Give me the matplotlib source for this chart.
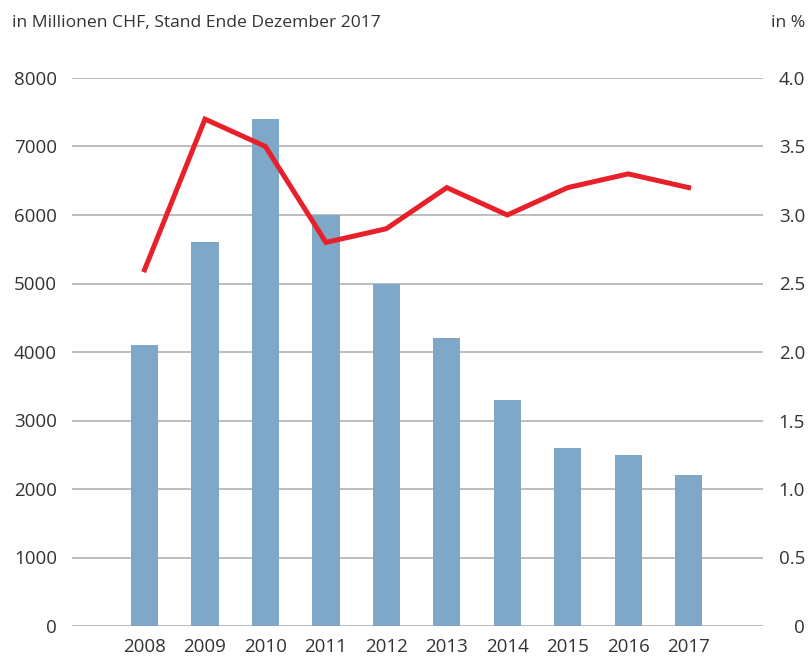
import matplotlib
matplotlib.use("Agg")
import matplotlib.pyplot as plt

years = ["2008", "2009", "2010", "2011", "2012", "2013", "2014", "2015", "2016", "2017"]
volumes = [4100, 5600, 7400, 6000, 5000, 4200, 3300, 2600, 2500, 2200]
rates = [2.6, 3.7, 3.5, 2.8, 2.9, 3.2, 3.0, 3.2, 3.3, 3.2]
left_ticks = [0, 1000, 2000, 3000, 4000, 5000, 6000, 7000, 8000]
right_ticks = [0, 0.5, 1.0, 1.5, 2.0, 2.5, 3.0, 3.5, 4.0]
right_labels = ["0", "0.5", "1.0", "1.5", "2.0", "2.5", "3.0", "3.5", "4.0"]

plt.rcParams['font.family'] = ['Open Sans', 'DejaVu Sans']
txt = '#333333'
fs = 13.5

W, H = 811, 657
fig = plt.figure(figsize=(W / 100, H / 100), dpi=100)
ax = fig.add_axes([72 / W, 1 - 626 / H, (763 - 72) / W, (626 - 78) / H])
x = list(range(len(years)))

for t in left_ticks:
    ax.axhline(t, color='#bdbdbd', lw=1.4, zorder=0)
ax.bar(x, volumes, width=0.45, color='#7fa7c8', zorder=2)
ax.set_xlim(-1.2, 10.23)
ax.set_ylim(0, 8000)
ax.set_yticks(left_ticks)
ax.set_yticklabels([str(t) for t in left_ticks])
ax.set_xticks(x)
ax.set_xticklabels(years)
ax.tick_params(length=0, labelsize=fs, colors=txt)
ax.tick_params(axis='y', pad=10.8)
ax.tick_params(axis='x', pad=8.5)
for s in ax.spines.values():
    s.set_visible(False)

ax2 = ax.twinx()
ax2.plot(x, rates, color='#e8202a', lw=3.6, zorder=3, solid_joinstyle='miter')
ax2.set_ylim(0, 4.0)
ax2.set_yticks(right_ticks)
ax2.set_yticklabels(right_labels, ha='right')
ax2.tick_params(length=0, labelsize=fs, colors=txt, pad=30.2)
for s in ax2.spines.values():
    s.set_visible(False)

fig.text(12 / W, 1 - 27 / H, "in Millionen CHF, Stand Ende Dezember 2017", fontsize=12.6, color=txt, ha='left', va='baseline')
fig.text(805 / W, 1 - 27 / H, "in %", fontsize=12.6, color=txt, ha='right', va='baseline')

fig.savefig("out.png", dpi=100)
